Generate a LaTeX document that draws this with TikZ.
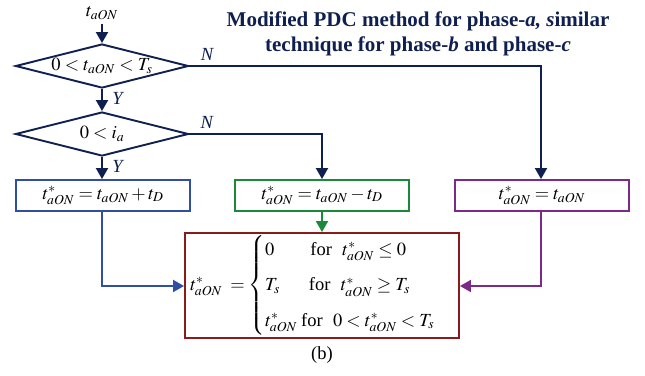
\documentclass[tikz,border=0pt]{standalone}
\usepackage{amsmath}
\usepackage{mathptmx}
\usepackage{fontspec}
\setmainfont{Liberation Serif}
\usetikzlibrary{shapes.geometric,arrows.meta}
\definecolor{navy}{HTML}{0F1F4F}
\definecolor{bblue}{HTML}{2E4FA3}
\definecolor{bgreen}{HTML}{1A8A3A}
\definecolor{bpurple}{HTML}{7B2A8A}
\definecolor{bred}{HTML}{8B1A1A}
\begin{document}
\begin{tikzpicture}[x=1pt,y=-1pt,
  line width=1.9pt,
  arr/.style={-{Triangle[length=11pt,width=12pt]}},
  mfont/.style={font=\fontsize{18.5}{22}\selectfont},
  dec/.style={diamond,draw=navy,aspect=3.93,minimum width=173pt,minimum height=44pt,inner sep=0pt,mfont},
  resbox/.style={draw,rectangle,minimum width=174pt,minimum height=31pt,inner sep=0pt,mfont},
  lbl/.style={font=\fontsize{18.5}{22}\selectfont\itshape}]
\useasboundingbox (0,0) rectangle (645,375);
\node[mfont] (tin) at (102,13) {$t_{aON}$};
\node[dec] (d1) at (102,66) {$0<t_{aON}<T_s$};
\node[dec] (d2) at (102,134) {$0<i_a$};
\node[resbox,draw=bblue] (b1) at (103,195.5) {$t_{aON}^{*}=t_{aON}+t_D$};
\node[resbox,draw=bgreen] (b2) at (322,195.5) {$t_{aON}^{*}=t_{aON}-t_D$};
\node[resbox,draw=bpurple] (b3) at (542,195.5) {$t_{aON}^{*}=t_{aON}$};
\node[draw=bred,rectangle,minimum width=274pt,minimum height=105pt,inner sep=0pt,mfont] (res) at (322,285.5)
  {$t_{aON}^{*}\;=\begin{cases}
  0\hspace{36pt}\text{for}\;\;\, t_{aON}^{*}\le 0\\[9pt]
  T_s\hspace{29pt}\text{for}\;\;\, t_{aON}^{*}\ge T_s\\[9pt]
  t_{aON}^{*}\;\text{for}\;\;\, 0<t_{aON}^{*}<T_s
  \end{cases}$};
\node[mfont] (cap) at (322,355) {(b)};
\node[text=navy,font=\fontsize{21}{25}\selectfont\bfseries,align=center] (title) at (418,34)
  {Modified PDC method for phase-\textit{a, s}imilar\\technique for phase-\textit{b} and phase-\textit{c}};
\coordinate (c1) at (541,66);
\coordinate (c2) at (322,134);
\coordinate (c3) at (102,286);
\coordinate (c4) at (541,286);
\draw[navy,arr] (tin.south) -- (d1.north);
\draw[navy,arr] (d1.south) -- node[lbl,right,pos=0.45,xshift=6pt]{Y} (d2.north);
\draw[navy,arr] (d2.south) -- node[lbl,right,pos=0.45,xshift=6pt]{Y} (b1.north -| d2.south);
\draw[navy,arr] (d1.east) -- node[lbl,above,pos=0.05,yshift=1pt]{N} (c1) -- (b3.north -| c1);
\draw[navy,arr] (d2.east) -- node[lbl,above,pos=0.13,yshift=1pt]{N} (c2) -- (b2.north);
\draw[bgreen,arr] (b2.south) -- (res.north);
\draw[bblue,arr] (b1.south -| c3) -- (c3) -- (res.west |- c3);
\draw[bpurple,arr] (b3.south -| c4) -- (c4) -- (res.east |- c4);
\end{tikzpicture}
\end{document}
